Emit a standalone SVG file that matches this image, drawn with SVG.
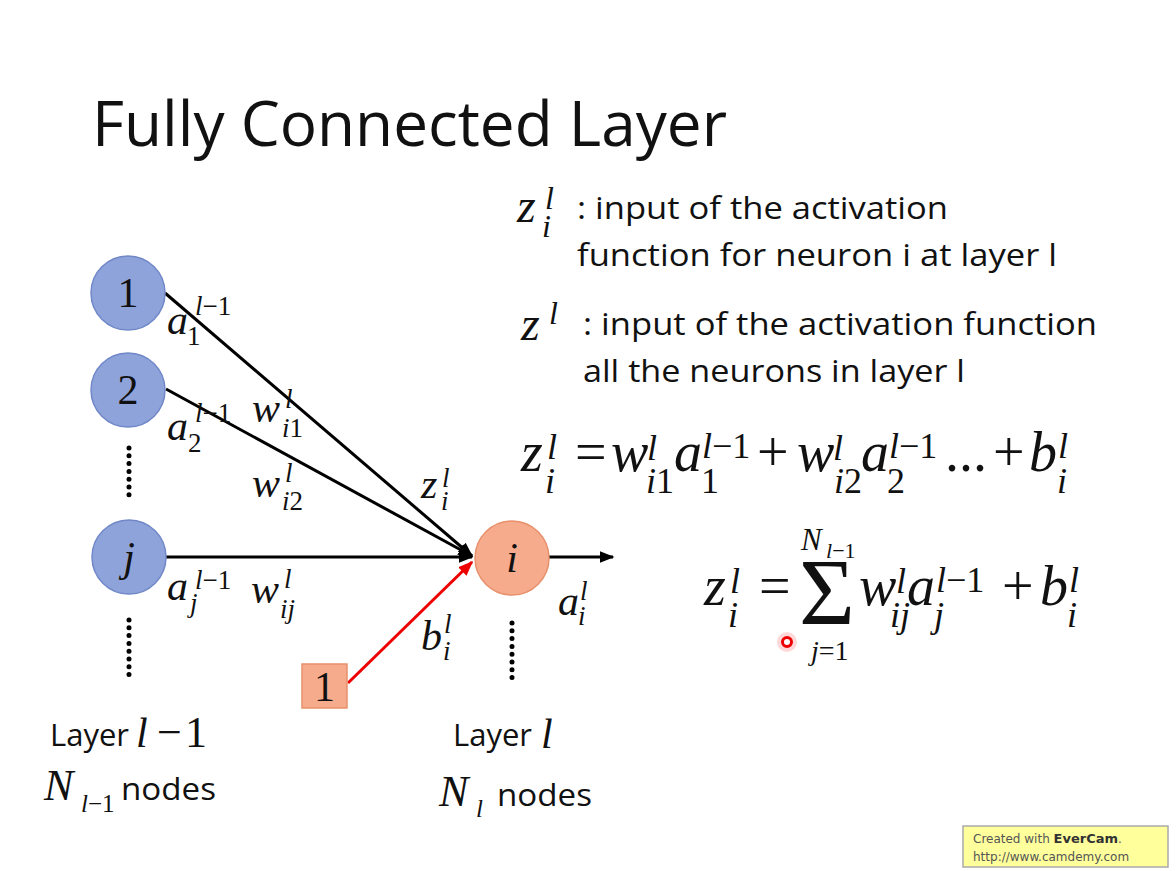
<svg xmlns="http://www.w3.org/2000/svg" width="1176" height="871" viewBox="0 0 1176 871">
<defs>
<marker id="ahB" viewBox="0 0 10 10" refX="9" refY="5" markerWidth="5" markerHeight="5" orient="auto" markerUnits="strokeWidth"><path d="M0,1 L10,5 L0,9 z" fill="#000"/></marker>
<marker id="ahR" viewBox="0 0 10 10" refX="9" refY="5" markerWidth="5" markerHeight="5" orient="auto" markerUnits="strokeWidth"><path d="M0,1 L10,5 L0,9 z" fill="#e00"/></marker>
<style>
.sans{font-family:"Open Sans","Liberation Sans",sans-serif;fill:#111}
.m{font-family:"Liberation Serif",serif;font-style:italic;fill:#111}
.u{font-style:normal}
.E{font-size:56px}
.S{font-size:36px}
.blue{fill:#8fa3db;stroke:#7088c8;stroke-width:1.5}
.org{fill:#f5ab8c;stroke:#e8906c;stroke-width:1.5}
.lbl{font-family:"Liberation Serif",serif;font-size:42px;fill:#111;text-anchor:middle}
.dots{stroke:#000;stroke-width:5;stroke-linecap:round;stroke-dasharray:0 7.8;fill:none}
.edge{stroke:#000;stroke-width:3;fill:none}
</style>
</defs>
<rect width="1176" height="871" fill="#fff"/>
<text class="sans" x="92" y="146" font-size="62" textLength="635" lengthAdjust="spacingAndGlyphs">Fully Connected Layer</text>

<g id="connectors">
<line class="edge" x1="165" y1="293" x2="472" y2="556" marker-end="url(#ahB)"/>
<line class="edge" x1="166" y1="389" x2="472" y2="556" marker-end="url(#ahB)"/>
<line class="edge" x1="166" y1="557" x2="472" y2="557" marker-end="url(#ahB)"/>
<line x1="348" y1="683" x2="472" y2="562" stroke="#e00" stroke-width="3" marker-end="url(#ahR)"/>
<line class="edge" x1="549" y1="557" x2="613" y2="557" marker-end="url(#ahB)"/>
</g>

<g id="node-1"><circle class="blue" cx="128" cy="293" r="37"/><text class="lbl" x="128" y="307">1</text></g>
<g id="node-2"><circle class="blue" cx="128" cy="390" r="37"/><text class="lbl" x="128" y="404">2</text></g>
<g id="node-j"><circle class="blue" cx="129" cy="557" r="37"/><text class="lbl" x="129" y="571" font-style="italic">j</text></g>
<g id="node-i"><circle class="org" cx="512" cy="558" r="37"/><text class="lbl" x="512" y="572" font-style="italic">i</text></g>
<g id="bias-1"><rect class="org" x="302" y="664" width="45" height="44"/><text class="lbl" x="324.5" y="701">1</text></g>

<g id="dots">
<line class="dots" x1="129" y1="448" x2="129" y2="502"/>
<line class="dots" x1="129" y1="620" x2="129" y2="675"/>
<line class="dots" x1="512" y1="623" x2="512" y2="678"/>
</g>

<g id="edge-labels">
<text class="m" x="167" y="334" font-size="42">a</text>
<text class="m u" x="187" y="345" font-size="27">1</text>
<text class="m" x="195" y="315" font-size="27">l<tspan class="u">−1</tspan></text>

<text class="m" x="167" y="440" font-size="42">a</text>
<text class="m u" x="188" y="452" font-size="27">2</text>
<text class="m" x="195" y="422" font-size="27">l<tspan class="u">−1</tspan></text>

<text class="m" x="252" y="422" font-size="42">w</text>
<text class="m" x="285" y="408" font-size="27">l</text>
<text class="m" x="282" y="437" font-size="27">i<tspan class="u">1</tspan></text>

<text class="m" x="252" y="497" font-size="42">w</text>
<text class="m" x="285" y="482" font-size="27">l</text>
<text class="m" x="282" y="510" font-size="27">i<tspan class="u">2</tspan></text>

<text class="m" x="421" y="498" font-size="42">z</text>
<text class="m" x="442" y="487" font-size="27">l</text>
<text class="m" x="441" y="510" font-size="27">i</text>

<text class="m" x="167" y="600" font-size="42">a</text>
<text class="m" x="195" y="589" font-size="27">l<tspan class="u">−1</tspan></text>
<text class="m" x="190" y="612" font-size="27">j</text>

<text class="m" x="251" y="603" font-size="42">w</text>
<text class="m" x="284" y="588" font-size="27">l</text>
<text class="m" x="280" y="618" font-size="27">ij</text>

<text class="m" x="558" y="615" font-size="42">a</text>
<text class="m" x="580" y="600" font-size="27">l</text>
<text class="m" x="578" y="625" font-size="27">i</text>

<text class="m" x="421" y="650" font-size="42">b</text>
<text class="m" x="444" y="633" font-size="27">l</text>
<text class="m" x="443" y="660" font-size="27">i</text>
</g>

<g id="definitions">
<text class="m" x="517" y="222" font-size="48">z</text>
<text class="m" x="545" y="209" font-size="32">l</text>
<text class="m" x="542" y="237" font-size="32">i</text>
<text class="sans" x="577" y="219" font-size="31" textLength="371" lengthAdjust="spacingAndGlyphs">: input of the activation</text>
<text class="sans" x="577" y="266" font-size="31" textLength="480" lengthAdjust="spacingAndGlyphs">function for neuron i at layer l</text>

<text class="m" x="521" y="340" font-size="48">z</text>
<text class="m" x="549" y="324" font-size="32">l</text>
<text class="sans" x="583" y="335" font-size="31" textLength="514" lengthAdjust="spacingAndGlyphs">: input of the activation function</text>
<text class="sans" x="583" y="382" font-size="31" textLength="382" lengthAdjust="spacingAndGlyphs">all the neurons in layer l</text>
</g>

<g id="equation-1">
<text class="m E" x="521" y="471">z</text>
<text class="m S" x="547" y="459">l</text>
<text class="m S" x="545" y="493">i</text>
<text class="m u E" x="575" y="471">=</text>
<text class="m E" x="611" y="471">w</text>
<text class="m S" x="647" y="460">l</text>
<text class="m S" x="646" y="493">i<tspan class="u">1</tspan></text>
<text class="m E" x="674" y="471">a</text>
<text class="m S" x="702" y="458">l<tspan class="u">−1</tspan></text>
<text class="m u S" x="701" y="493">1</text>
<text class="m u E" x="757" y="471">+</text>
<text class="m E" x="797" y="471">w</text>
<text class="m S" x="833" y="460">l</text>
<text class="m S" x="834" y="493">i<tspan class="u">2</tspan></text>
<text class="m E" x="861" y="471">a</text>
<text class="m S" x="889" y="458">l<tspan class="u">−1</tspan></text>
<text class="m u S" x="887" y="493">2</text>
<text class="m u E" x="945" y="471">...</text>
<text class="m u E" x="993" y="471">+</text>
<text class="m E" x="1029" y="471">b</text>
<text class="m S" x="1058" y="458">l</text>
<text class="m S" x="1057" y="493">i</text>
</g>

<g id="equation-2">
<text class="m E" x="704" y="605">z</text>
<text class="m S" x="730" y="593">l</text>
<text class="m S" x="728" y="627">i</text>
<text class="m u E" x="759" y="605">=</text>
<text class="m u" x="799" y="625" font-size="96">Σ</text>
<text class="m" x="801" y="550" font-size="31">N</text>
<text class="m" x="826" y="558" font-size="22">l<tspan class="u">−1</tspan></text>
<text class="m" x="811" y="660" font-size="28">j<tspan class="u">=1</tspan></text>
<text class="m E" x="859" y="605">w</text>
<text class="m S" x="896" y="593">l</text>
<text class="m S" x="890" y="627">ij</text>
<text class="m E" x="907" y="605">a</text>
<text class="m S" x="936" y="592">l<tspan class="u">−1</tspan></text>
<text class="m S" x="934" y="627">j</text>
<text class="m u E" x="1002" y="605">+</text>
<text class="m E" x="1040" y="605">b</text>
<text class="m S" x="1069" y="592">l</text>
<text class="m S" x="1067" y="627">i</text>
</g>

<g id="cursor">
<circle cx="787" cy="642" r="10" fill="#f66" opacity="0.25"/>
<circle cx="787" cy="642" r="4.5" fill="#fff" stroke="#e00" stroke-width="3"/>
</g>

<g id="layer-labels">
<text class="sans" x="50" y="746" font-size="31">Layer</text>
<text class="m" x="136" y="747" font-size="42">l</text>
<text class="m u" x="157" y="747" font-size="44">−</text>
<text class="m u" x="185" y="747" font-size="44">1</text>
<text class="m" x="44" y="800" font-size="44">N</text>
<text class="m" x="81" y="812" font-size="25">l<tspan class="u">−1</tspan></text>
<text class="sans" x="121" y="800" font-size="31" textLength="95" lengthAdjust="spacingAndGlyphs">nodes</text>

<text class="sans" x="453" y="746" font-size="31">Layer</text>
<text class="m" x="541" y="748" font-size="42">l</text>
<text class="m" x="439" y="806" font-size="44">N</text>
<text class="m" x="476" y="817" font-size="25">l</text>
<text class="sans" x="497" y="806" font-size="31" textLength="95" lengthAdjust="spacingAndGlyphs">nodes</text>
</g>

<g id="watermark">
<rect x="963" y="826" width="205" height="41" fill="#ffff9c" stroke="#aaa" stroke-width="1.5"/>
<text x="973" y="843" font-family="DejaVu Sans,sans-serif" font-size="12" fill="#555">Created with <tspan font-weight="bold" fill="#333" font-size="13">EverCam</tspan>.</text>
<text x="973" y="861" font-family="DejaVu Sans,sans-serif" font-size="12" fill="#555">http://www.camdemy.com</text>
</g>
</svg>
